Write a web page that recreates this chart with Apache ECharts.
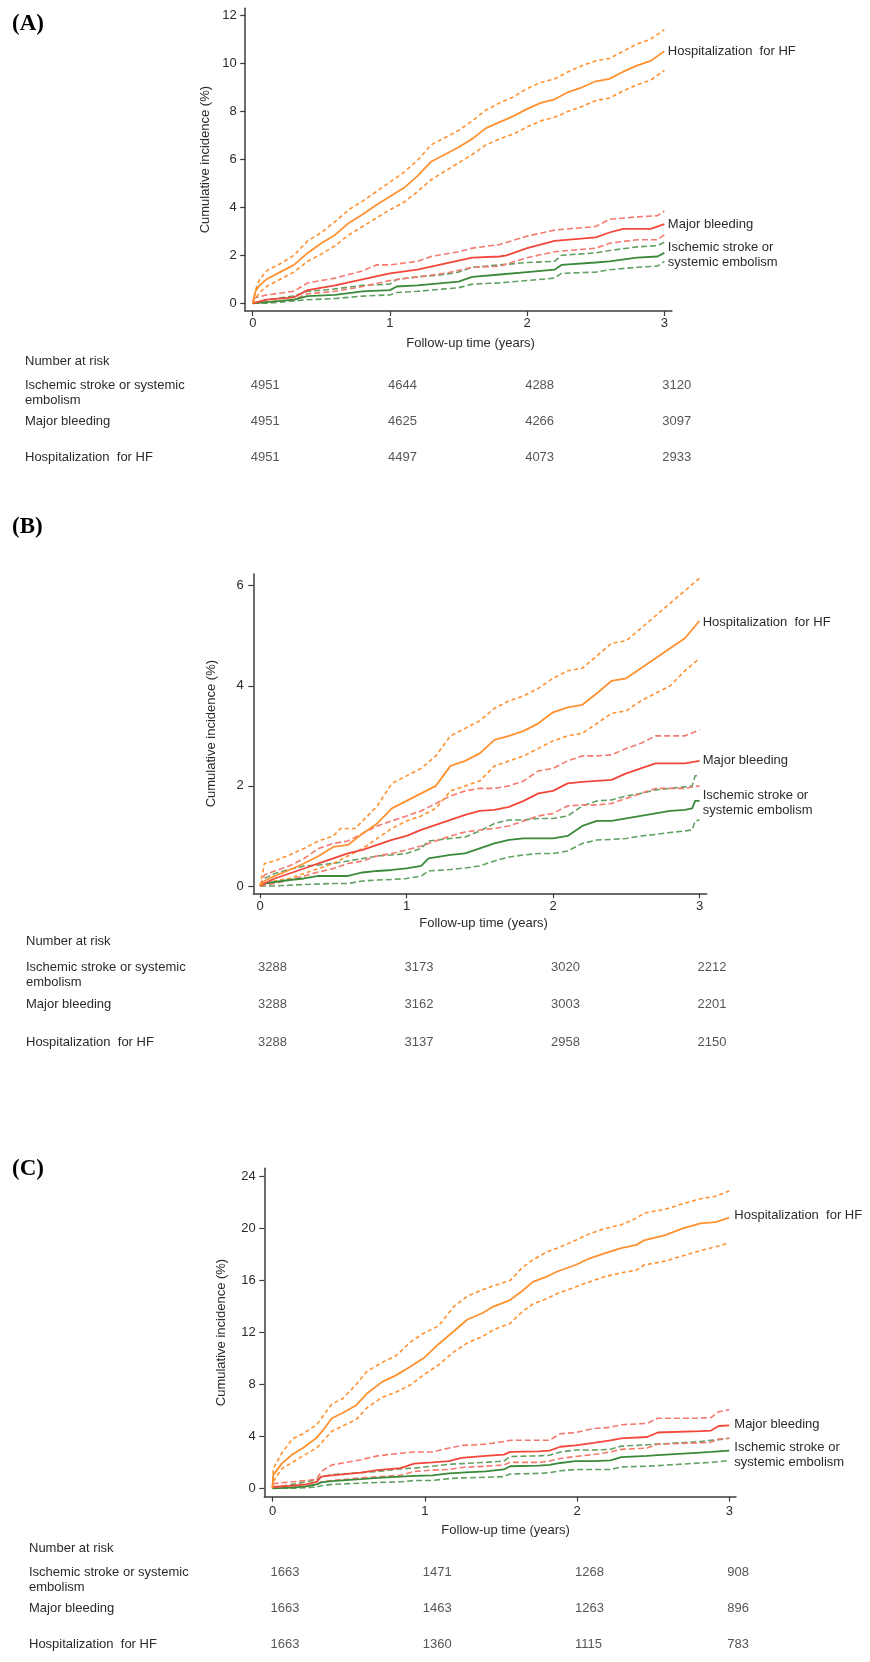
<!DOCTYPE html>
<html>
<head>
<meta charset="utf-8">
<script src="https://cdn.jsdelivr.net/npm/echarts@6/dist/echarts.min.js"></script>
<style>
    html, body { margin: 0; padding: 0; background: #fff; }
    #chart { width: 870px; height: 1662px; }
</style>
</head>
<body>
<div id="chart"></div>
<script>
/* ===== Data ===== */
const yearTicks = [0, 1, 2, 3]
const yTicksA = [0, 2, 4, 6, 8, 10, 12]
const yTicksB = [0, 2, 4, 6]
const yTicksC = [0, 4, 8, 12, 16, 20, 24]

const outcomeLabels = ['Hospitalization  for HF', 'Major bleeding', 'Ischemic stroke or\nsystemic embolism']
const riskRows = ['Ischemic stroke or systemic\nembolism', 'Major bleeding', 'Hospitalization  for HF']

// (A)
const aHF = [[0,0],[0.02,0.5],[0.05,0.75],[0.1,1.0],[0.2,1.3],[0.3,1.6],[0.4,2.1],[0.5,2.5],[0.6,2.85],[0.7,3.35],[0.8,3.7],[0.9,4.1],[1.0,4.45],[1.1,4.8],[1.2,5.3],[1.3,5.9],[1.4,6.2],[1.5,6.5],[1.6,6.85],[1.7,7.3],[1.8,7.55],[1.9,7.8],[2.0,8.1],[2.1,8.35],[2.2,8.5],[2.3,8.8],[2.4,9.0],[2.5,9.25],[2.6,9.35],[2.7,9.65],[2.8,9.9],[2.9,10.1],[3.0,10.5]]
const aHFHi = [[0,0],[0.02,0.55],[0.05,1.0],[0.1,1.35],[0.2,1.65],[0.3,2.0],[0.4,2.6],[0.5,2.95],[0.6,3.4],[0.7,3.9],[0.8,4.25],[0.9,4.65],[1.0,5.05],[1.1,5.45],[1.2,5.95],[1.3,6.6],[1.4,6.9],[1.5,7.2],[1.6,7.6],[1.7,8.05],[1.8,8.35],[1.9,8.6],[2.0,8.95],[2.1,9.2],[2.2,9.35],[2.3,9.65],[2.4,9.9],[2.5,10.1],[2.6,10.2],[2.7,10.5],[2.8,10.8],[2.9,11.0],[3.0,11.4]]
const aHFLo = [[0,0],[0.02,0.2],[0.05,0.45],[0.1,0.7],[0.2,1.0],[0.3,1.3],[0.4,1.75],[0.5,2.05],[0.6,2.4],[0.7,2.85],[0.8,3.2],[0.9,3.55],[1.0,3.9],[1.1,4.2],[1.2,4.65],[1.3,5.15],[1.4,5.5],[1.5,5.85],[1.6,6.2],[1.7,6.6],[1.8,6.85],[1.9,7.05],[2.0,7.35],[2.1,7.6],[2.2,7.75],[2.3,8.0],[2.4,8.2],[2.5,8.45],[2.6,8.55],[2.7,8.85],[2.8,9.1],[2.9,9.3],[3.0,9.7]]
const aMB = [[0,0],[0.1,0.15],[0.3,0.25],[0.4,0.55],[0.6,0.75],[0.8,1.0],[1.0,1.25],[1.2,1.4],[1.4,1.65],[1.6,1.9],[1.8,1.95],[1.85,2.0],[2.0,2.3],[2.2,2.6],[2.5,2.75],[2.6,2.95],[2.7,3.1],[2.9,3.1],[3.0,3.3]]
const aMBHi = [[0,0.2],[0.1,0.35],[0.3,0.5],[0.4,0.85],[0.6,1.05],[0.8,1.35],[0.9,1.6],[1.0,1.6],[1.2,1.75],[1.3,1.95],[1.5,2.15],[1.6,2.3],[1.8,2.45],[2.0,2.8],[2.2,3.05],[2.4,3.15],[2.5,3.2],[2.6,3.5],[2.8,3.6],[2.95,3.65],[3.0,3.85]]
const aMBLo = [[0,0],[0.1,0.05],[0.3,0.15],[0.4,0.4],[0.6,0.5],[0.8,0.7],[1.0,0.95],[1.2,1.1],[1.4,1.25],[1.6,1.5],[1.8,1.55],[2.0,1.9],[2.2,2.15],[2.4,2.25],[2.5,2.3],[2.6,2.5],[2.8,2.65],[2.95,2.65],[3.0,2.85]]
const aIS = [[0,0],[0.1,0.05],[0.3,0.15],[0.4,0.3],[0.6,0.35],[0.8,0.5],[1.0,0.55],[1.05,0.7],[1.2,0.75],[1.4,0.85],[1.5,0.9],[1.6,1.1],[1.8,1.2],[2.0,1.3],[2.2,1.4],[2.25,1.6],[2.5,1.7],[2.6,1.75],[2.8,1.9],[2.95,1.95],[3.0,2.1]]
const aISHi = [[0,0],[0.1,0.15],[0.3,0.3],[0.4,0.5],[0.6,0.6],[0.8,0.75],[1.0,0.8],[1.05,1.0],[1.2,1.1],[1.4,1.2],[1.5,1.3],[1.6,1.5],[1.8,1.6],[2.0,1.7],[2.2,1.75],[2.25,2.0],[2.5,2.1],[2.6,2.2],[2.8,2.35],[2.95,2.4],[3.0,2.55]]
const aISLo = [[0,0],[0.1,0],[0.3,0.1],[0.4,0.15],[0.6,0.2],[0.8,0.3],[1.0,0.35],[1.05,0.45],[1.2,0.5],[1.4,0.6],[1.5,0.65],[1.6,0.8],[1.8,0.85],[2.0,0.95],[2.2,1.05],[2.25,1.25],[2.5,1.3],[2.6,1.4],[2.8,1.5],[2.95,1.55],[3.0,1.75]]
const aRisk = [[4951, 4644, 4288, 3120], [4951, 4625, 4266, 3097], [4951, 4497, 4073, 2933]]

// (B)
const bHF = [[0,0],[0.03,0.1],[0.1,0.2],[0.2,0.32],[0.3,0.45],[0.4,0.6],[0.5,0.78],[0.6,0.82],[0.7,1.05],[0.8,1.25],[0.9,1.55],[1.0,1.7],[1.1,1.85],[1.2,2.0],[1.3,2.4],[1.4,2.5],[1.5,2.65],[1.6,2.92],[1.7,3.0],[1.8,3.1],[1.9,3.25],[2.0,3.47],[2.1,3.57],[2.2,3.62],[2.3,3.85],[2.4,4.1],[2.5,4.15],[2.6,4.35],[2.7,4.55],[2.8,4.75],[2.9,4.95],[3.0,5.3]]
const bHFHi = [[0,0],[0.03,0.45],[0.1,0.5],[0.2,0.62],[0.3,0.75],[0.4,0.9],[0.5,1.0],[0.55,1.15],[0.65,1.15],[0.7,1.3],[0.8,1.6],[0.9,2.05],[1.0,2.2],[1.1,2.35],[1.2,2.6],[1.3,3.0],[1.4,3.15],[1.5,3.3],[1.6,3.55],[1.7,3.7],[1.8,3.8],[1.9,3.95],[2.0,4.15],[2.1,4.3],[2.2,4.35],[2.3,4.6],[2.4,4.85],[2.5,4.9],[2.6,5.15],[2.7,5.4],[2.8,5.65],[2.9,5.9],[3.0,6.15]]
const bHFLo = [[0,0],[0.03,0.05],[0.1,0.1],[0.2,0.15],[0.3,0.25],[0.4,0.35],[0.5,0.45],[0.6,0.6],[0.7,0.75],[0.8,0.95],[0.9,1.15],[1.0,1.3],[1.1,1.4],[1.2,1.55],[1.3,1.9],[1.4,2.0],[1.5,2.1],[1.6,2.4],[1.7,2.5],[1.8,2.6],[1.9,2.75],[2.0,2.9],[2.1,3.0],[2.2,3.05],[2.3,3.25],[2.4,3.45],[2.5,3.5],[2.6,3.7],[2.7,3.85],[2.8,4.0],[2.9,4.3],[3.0,4.55]]
const bMB = [[0,0],[0.03,0.05],[0.1,0.15],[0.2,0.25],[0.3,0.35],[0.4,0.45],[0.5,0.55],[0.6,0.65],[0.7,0.72],[0.8,0.82],[0.9,0.92],[1.0,1.0],[1.1,1.12],[1.2,1.22],[1.3,1.32],[1.4,1.42],[1.5,1.5],[1.6,1.52],[1.7,1.58],[1.8,1.7],[1.9,1.85],[2.0,1.9],[2.1,2.05],[2.2,2.08],[2.3,2.1],[2.4,2.12],[2.5,2.25],[2.6,2.35],[2.7,2.45],[2.8,2.45],[2.9,2.45],[3.0,2.5]]
const bMBHi = [[0,0],[0.03,0.22],[0.1,0.3],[0.2,0.4],[0.3,0.55],[0.4,0.75],[0.5,0.85],[0.6,0.9],[0.7,1.05],[0.8,1.2],[0.9,1.3],[1.0,1.4],[1.1,1.5],[1.2,1.65],[1.3,1.8],[1.4,1.9],[1.5,1.95],[1.6,1.95],[1.7,2.0],[1.8,2.1],[1.9,2.3],[2.0,2.35],[2.1,2.5],[2.2,2.6],[2.3,2.6],[2.4,2.62],[2.5,2.75],[2.6,2.85],[2.7,3.0],[2.8,3.0],[2.9,3.0],[3.0,3.12]]
const bMBLo = [[0,0],[0.03,0.02],[0.1,0.05],[0.2,0.12],[0.3,0.2],[0.4,0.28],[0.5,0.35],[0.6,0.45],[0.7,0.5],[0.8,0.6],[0.9,0.65],[1.0,0.72],[1.1,0.8],[1.2,0.9],[1.3,1.0],[1.4,1.08],[1.5,1.12],[1.6,1.15],[1.7,1.2],[1.8,1.3],[1.9,1.4],[2.0,1.45],[2.1,1.6],[2.2,1.62],[2.3,1.62],[2.4,1.65],[2.5,1.75],[2.6,1.85],[2.7,1.95],[2.8,1.95],[2.9,1.95],[3.0,2.0]]
const bIS = [[0,0],[0.03,0.05],[0.1,0.08],[0.2,0.12],[0.3,0.15],[0.4,0.2],[0.5,0.2],[0.6,0.2],[0.7,0.27],[0.8,0.3],[0.9,0.32],[1.0,0.35],[1.1,0.4],[1.15,0.55],[1.3,0.62],[1.4,0.65],[1.5,0.75],[1.6,0.85],[1.7,0.92],[1.8,0.95],[1.9,0.95],[2.0,0.95],[2.1,1.0],[2.2,1.2],[2.3,1.3],[2.4,1.3],[2.5,1.35],[2.6,1.4],[2.7,1.45],[2.8,1.5],[2.9,1.52],[2.95,1.55],[2.97,1.7],[3.0,1.7]]
const bISHi = [[0,0],[0.03,0.15],[0.1,0.25],[0.2,0.33],[0.3,0.4],[0.4,0.42],[0.5,0.45],[0.6,0.5],[0.7,0.55],[0.8,0.6],[0.9,0.62],[1.0,0.65],[1.1,0.75],[1.15,0.9],[1.3,0.95],[1.4,0.98],[1.5,1.1],[1.6,1.25],[1.7,1.32],[1.8,1.32],[1.9,1.35],[2.0,1.35],[2.1,1.4],[2.2,1.6],[2.3,1.7],[2.4,1.72],[2.5,1.8],[2.6,1.85],[2.7,1.92],[2.8,1.95],[2.9,1.98],[2.95,2.0],[2.97,2.2],[3.0,2.22]]
const bISLo = [[0,0],[0.1,0],[0.3,0.03],[0.5,0.05],[0.6,0.05],[0.7,0.1],[0.8,0.12],[0.9,0.13],[1.0,0.15],[1.1,0.2],[1.15,0.3],[1.3,0.33],[1.4,0.36],[1.5,0.4],[1.6,0.5],[1.7,0.58],[1.8,0.62],[1.9,0.65],[2.0,0.65],[2.1,0.7],[2.2,0.85],[2.3,0.92],[2.4,0.93],[2.5,0.95],[2.6,1.0],[2.7,1.03],[2.8,1.07],[2.9,1.1],[2.95,1.12],[2.97,1.3],[3.0,1.32]]
const bRisk = [[3288, 3173, 3020, 2212], [3288, 3162, 3003, 2201], [3288, 3137, 2958, 2150]]

// (C)
const cHF = [[0,0],[0.005,1.0],[0.06,1.9],[0.13,2.6],[0.2,3.1],[0.29,3.9],[0.34,4.6],[0.39,5.4],[0.46,5.8],[0.55,6.4],[0.62,7.3],[0.72,8.2],[0.81,8.7],[0.91,9.4],[1.0,10.1],[1.09,11.1],[1.19,12.1],[1.28,13.0],[1.38,13.5],[1.45,14.0],[1.56,14.5],[1.64,15.2],[1.71,15.9],[1.8,16.3],[1.87,16.7],[1.99,17.2],[2.08,17.7],[2.18,18.1],[2.29,18.5],[2.39,18.75],[2.44,19.1],[2.58,19.5],[2.69,20.0],[2.81,20.4],[2.91,20.5],[3.0,20.85]]
const cHFHi = [[0,0],[0.005,1.5],[0.06,2.7],[0.13,3.8],[0.2,4.2],[0.29,4.9],[0.39,6.5],[0.46,6.9],[0.55,8.0],[0.62,9.0],[0.72,9.7],[0.81,10.2],[0.91,11.3],[1.0,12.0],[1.09,12.5],[1.19,14.0],[1.28,14.8],[1.38,15.3],[1.45,15.6],[1.56,16.0],[1.64,17.0],[1.71,17.6],[1.8,18.2],[1.87,18.5],[1.99,19.1],[2.08,19.6],[2.18,20.0],[2.29,20.3],[2.39,20.8],[2.44,21.2],[2.58,21.5],[2.69,21.9],[2.81,22.3],[2.91,22.5],[3.0,22.9]]
const cHFLo = [[0,0],[0.005,0.5],[0.06,1.5],[0.13,2.0],[0.2,2.5],[0.29,3.1],[0.39,4.4],[0.46,4.8],[0.55,5.3],[0.62,6.2],[0.72,7.0],[0.81,7.4],[0.91,8.0],[1.0,8.8],[1.09,9.5],[1.19,10.5],[1.28,11.2],[1.38,11.7],[1.45,12.2],[1.56,12.7],[1.64,13.6],[1.71,14.2],[1.8,14.6],[1.87,15.0],[1.99,15.5],[2.08,15.9],[2.18,16.3],[2.29,16.6],[2.39,16.8],[2.44,17.2],[2.58,17.5],[2.69,17.9],[2.81,18.3],[2.91,18.6],[3.0,18.9]]
const cMB = [[0,0.1],[0.13,0.2],[0.22,0.3],[0.29,0.5],[0.32,0.9],[0.39,1.0],[0.58,1.2],[0.69,1.4],[0.84,1.55],[0.93,1.9],[1.05,2.0],[1.16,2.1],[1.24,2.35],[1.4,2.5],[1.52,2.6],[1.56,2.8],[1.75,2.85],[1.82,2.9],[1.89,3.2],[1.99,3.3],[2.11,3.5],[2.22,3.7],[2.29,3.85],[2.46,3.95],[2.53,4.3],[2.81,4.4],[2.88,4.45],[2.93,4.8],[3.0,4.85]]
const cMBHi = [[0,0.35],[0.13,0.5],[0.22,0.6],[0.29,0.7],[0.32,1.3],[0.39,1.8],[0.58,2.2],[0.69,2.5],[0.84,2.7],[0.93,2.8],[1.05,2.8],[1.16,3.1],[1.24,3.3],[1.4,3.4],[1.52,3.6],[1.56,3.7],[1.75,3.7],[1.82,3.7],[1.89,4.2],[1.99,4.3],[2.11,4.6],[2.22,4.7],[2.29,4.9],[2.46,5.0],[2.53,5.4],[2.81,5.4],[2.88,5.45],[2.93,5.9],[3.0,6.05]]
const cMBLo = [[0,0.05],[0.13,0.1],[0.22,0.15],[0.29,0.3],[0.32,0.5],[0.39,0.6],[0.58,0.8],[0.69,0.9],[0.84,1.0],[0.93,1.3],[1.05,1.4],[1.16,1.45],[1.24,1.6],[1.4,1.7],[1.52,1.8],[1.56,2.0],[1.75,2.0],[1.82,2.1],[1.89,2.3],[1.99,2.45],[2.11,2.6],[2.22,2.8],[2.29,3.0],[2.46,3.1],[2.53,3.4],[2.81,3.5],[2.88,3.55],[2.93,3.8],[3.0,3.85]]
const cIS = [[0,0],[0.13,0.05],[0.22,0.15],[0.29,0.3],[0.32,0.45],[0.39,0.55],[0.58,0.7],[0.69,0.8],[0.84,0.9],[0.93,0.95],[1.05,1.0],[1.16,1.15],[1.24,1.2],[1.4,1.3],[1.52,1.45],[1.56,1.7],[1.75,1.75],[1.82,1.8],[1.89,1.95],[1.99,2.1],[2.11,2.1],[2.22,2.15],[2.29,2.4],[2.46,2.5],[2.53,2.55],[2.81,2.75],[2.88,2.8],[2.93,2.85],[3.0,2.9]]
const cISHi = [[0,0],[0.13,0.3],[0.22,0.5],[0.29,0.65],[0.32,0.9],[0.39,1.05],[0.58,1.2],[0.69,1.3],[0.84,1.5],[0.93,1.55],[1.05,1.7],[1.16,1.85],[1.24,1.9],[1.4,2.0],[1.52,2.1],[1.56,2.45],[1.75,2.5],[1.82,2.55],[1.89,2.8],[1.99,2.95],[2.11,2.95],[2.22,3.0],[2.29,3.25],[2.46,3.35],[2.53,3.4],[2.81,3.6],[2.88,3.7],[2.93,3.75],[3.0,3.85]]
const cISLo = [[0,0],[0.13,0],[0.22,0.05],[0.29,0.1],[0.32,0.2],[0.39,0.3],[0.58,0.4],[0.69,0.45],[0.84,0.5],[0.93,0.6],[1.05,0.6],[1.16,0.75],[1.24,0.8],[1.4,0.85],[1.52,0.9],[1.56,1.1],[1.75,1.15],[1.82,1.2],[1.89,1.35],[1.99,1.45],[2.11,1.45],[2.22,1.45],[2.29,1.65],[2.46,1.7],[2.53,1.75],[2.81,1.95],[2.88,2.0],[2.93,2.05],[3.0,2.15]]
const cRisk = [[1663, 1471, 1268, 908], [1663, 1463, 1263, 896], [1663, 1360, 1115, 783]]

/* ===== Layout / style ===== */
const FONT = "'Liberation Sans', Arial, Helvetica, sans-serif"
const TEXT = '#2b2b2b'
const AXIS = '#3c3c3c'
const HF_C = '#FF9130', MB_C = '#F2473B', MB_CI = '#F47A70', IS_C = '#3B8A3B', IS_CI = '#62A062'

const panels = [
    {
        letter: 'A', letterTop: 12,
        plot: { left: 245.2, top: 8.3, width: 426.7, height: 302.7 },
        x: [-0.055, 3.055], y: [-0.32, 12.29], yTicks: yTicksA,
        xLabelMargin: 6, yLabelMargin: 8.5, xNameGap: 26, xNameShift: 24, yNameGap: 33,
        riskTop: 353.5, rowX: 25, table: { top: 367.2, height: 108.6 },
        endDist: 3.5, endDy: [0, 0, 2],
        curves: [[aHF, aHFHi, aHFLo], [aMB, aMBHi, aMBLo], [aIS, aISHi, aISLo]], risk: aRisk
    },
    {
        letter: 'B', letterTop: 515,
        plot: { left: 253.3, top: 574, width: 453.4, height: 319.3 },
        x: [-0.046, 3.049], y: [-0.146, 6.234], yTicks: yTicksB,
        xLabelMargin: 7, yLabelMargin: 9.5, xNameGap: 23.5, xNameShift: 7, yNameGap: 35.8,
        riskTop: 934.2, rowX: 26, table: { top: 948.2, height: 112.95 },
        endDist: 3.2, endDy: [1.6, 0, 2.5],
        curves: [[bHF, bHFHi, bHFLo], [bMB, bMBHi, bMBLo], [bIS, bISHi, bISLo]], risk: bRisk
    },
    {
        letter: 'C', letterTop: 1157,
        plot: { left: 264.3, top: 1168.3, width: 471.7, height: 328.4 },
        x: [-0.054, 3.044], y: [-0.647, 24.65], yTicks: yTicksC,
        xLabelMargin: 8.5, yLabelMargin: 8.5, xNameGap: 26.8, xNameShift: 11, yNameGap: 36,
        riskTop: 1540.8, rowX: 29, table: { top: 1553.95, height: 117.3 },
        endDist: 5, endDy: [-2.7, -1, 4.3],
        curves: [[cHF, cHFHi, cHFLo], [cMB, cMBHi, cMBLo], [cIS, cISHi, cISLo]], risk: cRisk
    }
]

const styles = [
    { solid: HF_C, ci: HF_C, dash: [4, 3] },
    { solid: MB_C, ci: MB_CI, dash: [6, 3] },
    { solid: IS_C, ci: IS_CI, dash: [6, 3] }
]

const textBase = { fontFamily: FONT, fontSize: 13, color: TEXT }

const grid = [], xAxis = [], yAxis = [], series = [], title = []

panels.forEach(p => {
    const plotIdx = grid.length
    grid.push({ left: p.plot.left, top: p.plot.top, width: p.plot.width, height: p.plot.height })
    const tableIdx = grid.length
    grid.push({ left: p.plot.left, top: p.table.top, width: p.plot.width, height: p.table.height })

    xAxis.push({
        gridIndex: plotIdx, type: 'value', min: p.x[0], max: p.x[1],
        axisLine: { show: true, onZero: false, lineStyle: { color: AXIS, width: 1.5 } },
        axisTick: { show: true, length: 5, customValues: yearTicks, lineStyle: { color: AXIS, width: 1.2 } },
        axisLabel: { ...textBase, margin: p.xLabelMargin, customValues: yearTicks },
        splitLine: { show: false },
        name: 'Follow-up time (years)', nameLocation: 'middle', nameGap: p.xNameGap,
        nameTextStyle: { ...textBase, padding: [0, 0, 0, p.xNameShift] }
    })
    yAxis.push({
        gridIndex: plotIdx, type: 'value', min: p.y[0], max: p.y[1],
        axisLine: { show: true, onZero: false, lineStyle: { color: AXIS, width: 1.5 } },
        axisTick: { show: true, length: 5, customValues: p.yTicks, lineStyle: { color: AXIS, width: 1.2 } },
        axisLabel: { ...textBase, margin: p.yLabelMargin, customValues: p.yTicks },
        splitLine: { show: false },
        name: 'Cumulative incidence (%)', nameLocation: 'middle', nameGap: p.yNameGap,
        nameTextStyle: { ...textBase }
    })

    // table: hidden x scale shared with the plot, category rows for the labels
    xAxis.push({ gridIndex: tableIdx, type: 'value', min: p.x[0], max: p.x[1], show: false })
    yAxis.push({
        gridIndex: tableIdx, type: 'category', data: riskRows, inverse: true,
        offset: p.plot.left - p.rowX,
        axisLine: { show: false }, axisTick: { show: false }, splitLine: { show: false },
        axisLabel: {
            ...textBase, align: 'left', margin: 0, lineHeight: 15,
            // keep the first line of the two-line label on the row's baseline
            formatter: v => (v.indexOf('\n') >= 0 ? '\n' + v : v)
        }
    })

    // curves: CI bands first, solid estimate on top
    ;[2, 1, 0].forEach(k => {
        const st = styles[k]
        const [est, hi, lo] = p.curves[k]
        ;[hi, lo].forEach(d => series.push({
            type: 'line', xAxisIndex: plotIdx, yAxisIndex: plotIdx, data: d,
            symbol: 'none', silent: true, z: 2,
            lineStyle: { color: st.ci, width: 1.6, type: st.dash }
        }))
        series.push({
            type: 'line', name: outcomeLabels[k], xAxisIndex: plotIdx, yAxisIndex: plotIdx, data: est,
            symbol: 'none', silent: true, z: 3,
            lineStyle: { color: st.solid, width: 1.8 },
            endLabel: {
                show: true, ...textBase, lineHeight: 15, distance: p.endDist,
                offset: [0, p.endDy[k]],
                formatter: ({ seriesName }) => seriesName
            }
        })
    })

    // number at risk
    series.push({
        type: 'scatter', xAxisIndex: tableIdx, yAxisIndex: tableIdx,
        symbolSize: 1, itemStyle: { color: 'rgba(0,0,0,0)' }, silent: true,
        data: p.risk.flatMap((row, r) => row.map((n, c) => [yearTicks[c], r, n])),
        label: {
            show: true, ...textBase, position: 'inside', align: 'left', offset: [-2, 0],
            formatter: ({ value }) => String(value[2])
        }
    })

    title.push({
        text: '(' + p.letter + ')', left: 12, top: p.letterTop, padding: 0,
        textStyle: { fontFamily: "'Liberation Serif', 'Times New Roman', serif", fontWeight: 'bold', fontSize: 23, lineHeight: 24, color: '#000' }
    })
    title.push({
        text: 'Number at risk', left: p.rowX, top: p.riskTop, padding: 0,
        textStyle: { ...textBase, fontWeight: 'normal', lineHeight: 15 }
    })
})

const chart = echarts.init(document.getElementById('chart'))
chart.setOption({
    animation: false,
    backgroundColor: '#fff',
    textStyle: { fontFamily: FONT },
    title, grid, xAxis, yAxis, series
})
</script>
</body>
</html>
